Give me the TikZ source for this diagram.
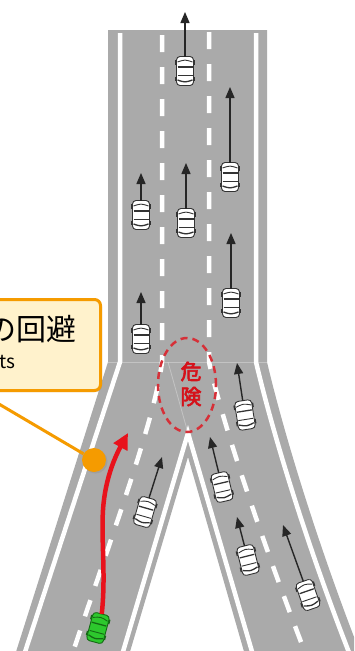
\documentclass[tikz,border=0pt]{standalone}
\usepackage{fontspec}
\newfontfamily\cjk{Noto Sans CJK JP}
\newfontfamily\cjkheavy[FakeBold=3]{Noto Sans CJK JP}
\usetikzlibrary{arrows.meta,shapes.geometric,shadows}

\tikzset{
  pics/car/.style 2 args={code={
    \fill[#2] (-10,-11) rectangle (10,-6.5);
    \fill[#2] (-10,5.5) rectangle (10,10);
    \filldraw[fill=#1, draw=#2, line width=0.9pt, rounded corners=3.5pt] (-8.5,-14.5) rectangle (8.5,14.5);
    \draw[#2, line width=0.9pt] (-7.5,-9) .. controls (0,-11.5) .. (7.5,-9);
    \draw[#2, line width=1.3pt] (-7.5,-4) -- (7.5,-4);
    \draw[#2, line width=0.9pt] (-7.5,4.5) -- (7.5,4.5);
    \draw[#2, line width=1.3pt] (-7.5,9) .. controls (0,11.5) .. (7.5,9);
    \coordinate (-front) at (0,-14.5);
  }}
}

\begin{document}
\begin{tikzpicture}[x=1pt, y=-1pt,
    roadedge/.style={white, line width=4.5pt},
    lanedash/.style={white, line width=4.5pt, dash pattern=on 17pt off 15pt},
    carrow/.style={black!85, line width=1.4pt, -{Triangle[length=11pt,width=9pt]}},
    dodge/.style={alertred, line width=4.5pt, -{Triangle[length=16pt,width=15pt]}},
    hazard/.style={draw=hazardred, ellipse, line width=2.5pt, dash pattern=on 7pt off 5pt,
      minimum width=58pt, minimum height=94pt, inner sep=0pt},
    notebox/.style={draw=noteorange, fill=notefill, line width=3pt, rounded corners=6pt,
      inner sep=0pt, drop shadow={opacity=0.25, shadow xshift=1.5pt, shadow yshift=-1.5pt}},
    leader/.style={noteorange, line width=3pt}]
  \definecolor{roadgray}{RGB}{170,170,170}
  \definecolor{alertred}{RGB}{232,18,28}
  \definecolor{hazardred}{RGB}{214,48,56}
  \definecolor{noteorange}{RGB}{245,155,0}
  \definecolor{notefill}{RGB}{255,242,204}
  \definecolor{carlime}{RGB}{45,200,45}
  \definecolor{cardark}{RGB}{20,105,20}
  \useasboundingbox (0,0) rectangle (354,651);
  \clip (0,0) rectangle (354,651);
  \fill[white] (0,0) rectangle (354,651);

  % road surface: three lanes splitting into two branches
  \fill[roadgray] (108,30) -- (267,30) -- (267,362)
    .. controls (283,430) and (316,540) .. (361,655) -- (245,655)
    -- (188,457) -- (129,655) -- (15,655) -- (108,362) -- cycle;
  \draw[white, opacity=0.3, line width=0.8pt] (108,362) -- (267,362);
  \draw[white, opacity=0.3, line width=0.8pt] (168,362) -- (188,433);

  \draw[roadedge] (120,33) -- (120,362) -- (24,655);
  \draw[roadedge] (256,33) -- (256,362) .. controls (272,430) and (305,540) .. (350,655);
  \draw[roadedge] (122,655) -- (188,433) -- (253,655);
  \draw[lanedash] (162,35) -- (162,362) .. controls (155,420) and (110,540) .. (72,655);
  \draw[lanedash] (209,32) -- (209,362) .. controls (222,420) and (258,530) .. (306,655);

  \node[hazard] (hazard) at (187,385) {};
  \node[font=\cjkheavy\fontsize{21}{25}\selectfont, text=alertred!92!black, align=center,
    inner sep=0pt] (hazardtext) at (191,384) {危\\険};

  % traffic
  \pic (c1) at (185,71) {car={white}{black!80}};
  \pic (c2) at (230,177) {car={white}{black!80}};
  \pic (c3) at (141,215) {car={white}{black!80}};
  \pic (c4) at (186,223) {car={white}{black!80}};
  \pic (c5) at (231,303) {car={white}{black!80}};
  \pic (c6) at (141,339) {car={white}{black!80}};
  \pic[rotate=9] (c7) at (245,415) {car={white}{black!80}};
  \pic[rotate=13] (c8) at (222,487) {car={white}{black!80}};
  \pic[rotate=14] (c9) at (248,560) {car={white}{black!80}};
  \pic[rotate=19] (c10) at (308,595) {car={white}{black!80}};
  \pic[rotate=-16] (c11) at (145,512) {car={white}{black!80}};
  \pic[rotate=-15] (ego) at (98,628) {car={carlime}{cardark}};

  \coordinate (t1) at (185,12);
  \coordinate (t2) at (230,87);
  \coordinate (t3) at (141,173);
  \coordinate (t4) at (186,163);
  \coordinate (t5) at (231,233);
  \coordinate (t6) at (141,292);
  \coordinate (t7) at (237,363);
  \coordinate (t8) at (210,437);
  \coordinate (t9) at (237,517);
  \coordinate (t10) at (283,525);
  \coordinate (t11) at (162,457);
  \coordinate (egotip) at (128,433);

  \draw[carrow] (c1-front) -- (t1);
  \draw[carrow] (c2-front) -- (t2);
  \draw[carrow] (c3-front) -- (t3);
  \draw[carrow] (c4-front) -- (t4);
  \draw[carrow] (c5-front) -- (t5);
  \draw[carrow] (c6-front) -- (t6);
  \draw[carrow] (c7-front) -- (t7);
  \draw[carrow] (c8-front) -- (t8);
  \draw[carrow] (c9-front) -- (t9);
  \draw[carrow] (c10-front) -- (t10);
  \draw[carrow] (c11-front) -- (t11);
  \draw[dodge] (ego-front) .. controls (106,575) and (101,540) .. (103,510)
    .. controls (105,478) and (116,455) .. (egotip);

  % callout
  \node[circle, fill=noteorange, minimum size=24pt, inner sep=0pt,
    drop shadow={opacity=0.25, shadow xshift=1.5pt, shadow yshift=-1.5pt}] (dot) at (94,460) {};
  \coordinate (lead) at (-24,390.5);
  \draw[leader] (lead) -- (dot);
  \node[notebox, minimum width=160.5pt, minimum height=91pt] (note) at (20.25,345) {};
  \node[anchor=base east, inner sep=0pt, font=\cjk\fontsize{30}{36}\selectfont] (notejp) at (77,340) {の回避};
  \node[anchor=base east, inner sep=0pt, font=\cjk\fontsize{19}{22}\selectfont] (noteen) at (16,368) {ts};
\end{tikzpicture}
\end{document}
